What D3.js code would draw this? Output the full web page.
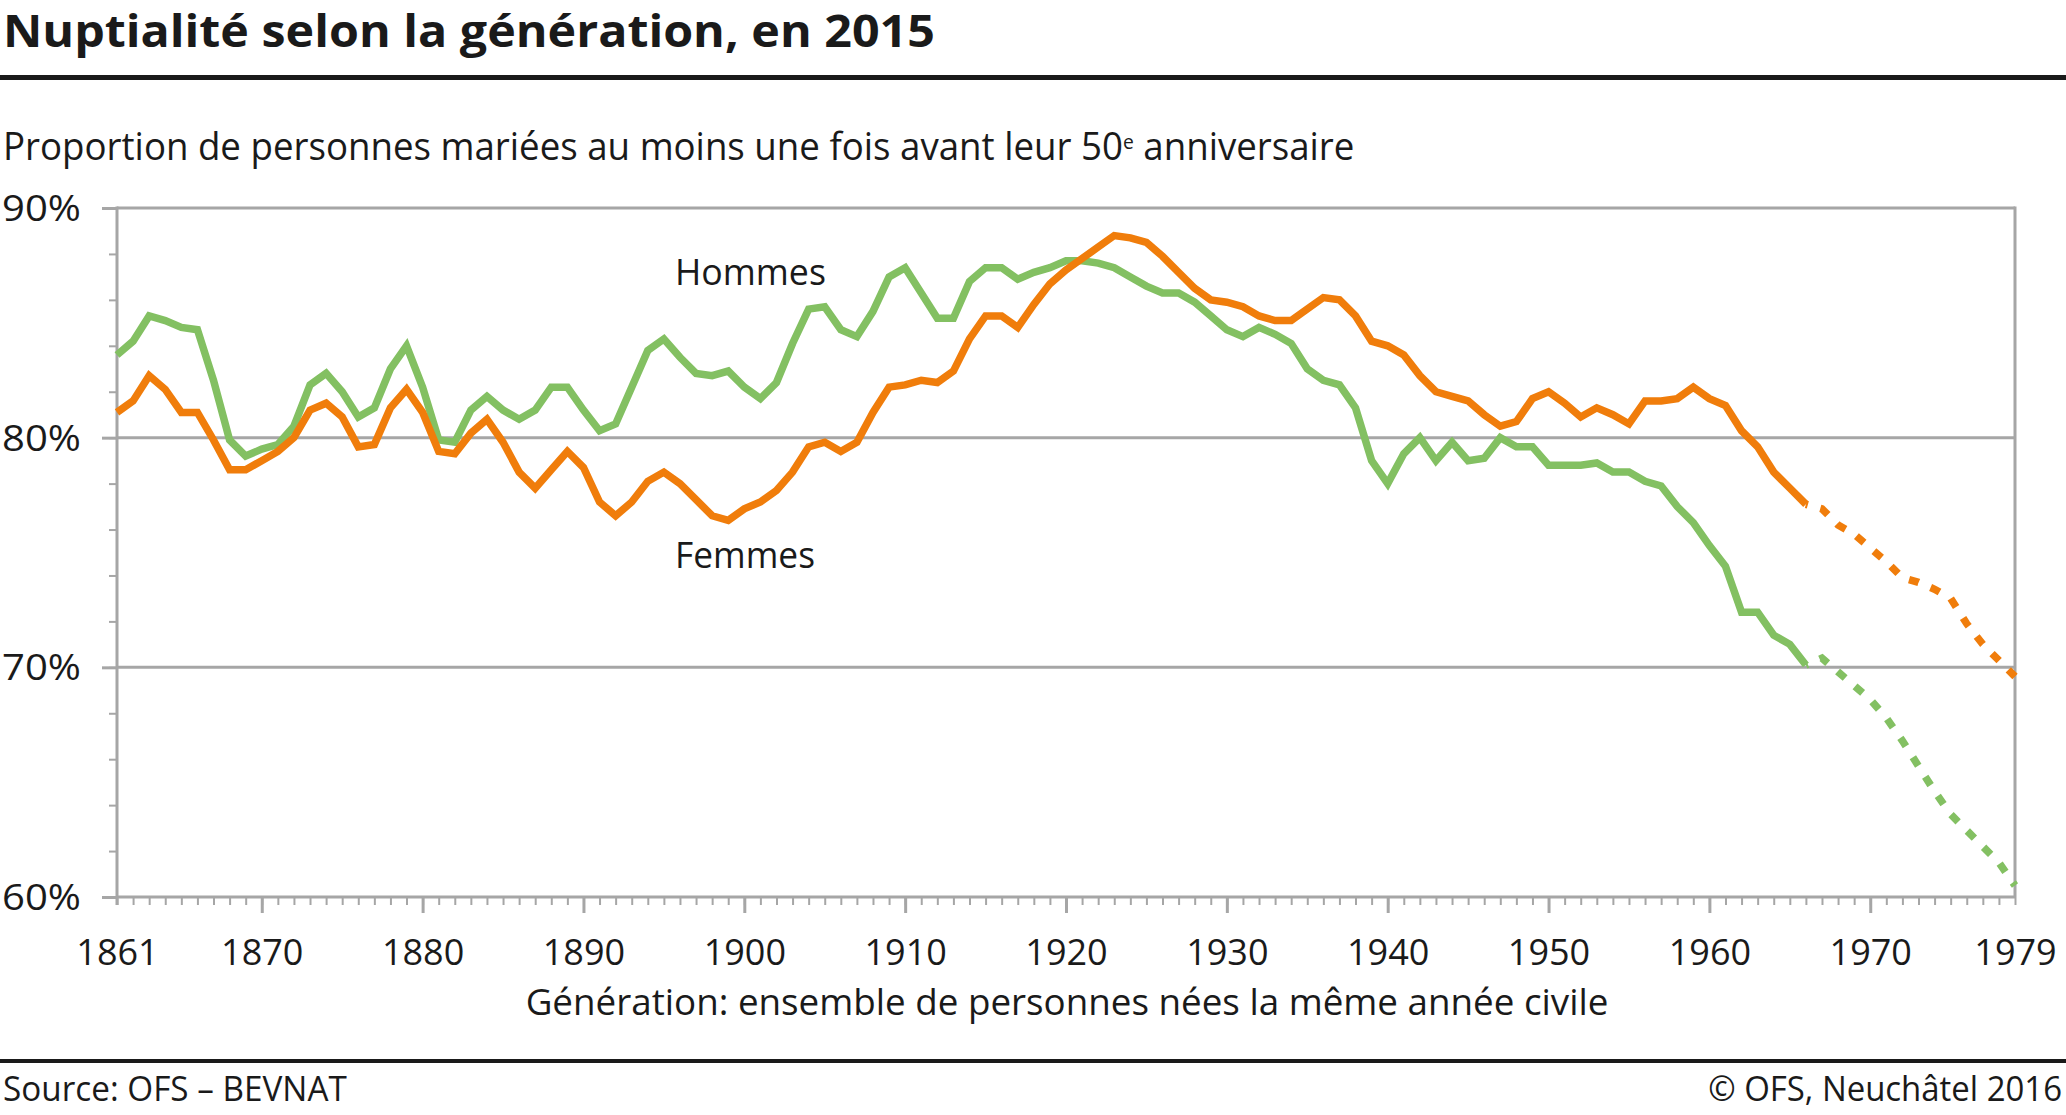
<!DOCTYPE html>
<html>
<head>
<meta charset="utf-8">
<script src="https://cdn.jsdelivr.net/npm/d3@7"></script>
<style>
  body { margin: 0; background: #fff; }
  text { font-family: 'Open Sans', 'Noto Sans', sans-serif; fill: #1a1a1a; }
</style>
</head>
<body>
<div id="chart"></div>
<script>
// data, one value per generation (year of birth)
const firstYear = 1861;
const lastYear = 1979;
const xLabels = [1861, 1870, 1880, 1890, 1900, 1910, 1920, 1930, 1940, 1950, 1960, 1970, 1979];
const yLabels = [60, 70, 80, 90];

// Hommes, observed 1861-1966
const hommes = [
  83.6, 84.2, 85.3, 85.1, 84.8, 84.7, 82.5, 79.9, 79.2, 79.5,
  79.7, 80.5, 82.3, 82.8, 82.0, 80.9, 81.3, 83.0, 84.0, 82.2,
  79.9, 79.8, 81.2, 81.8, 81.2, 80.8, 81.2, 82.2, 82.2, 81.2,
  80.3, 80.6, 82.2, 83.8, 84.3, 83.5, 82.8, 82.7, 82.9, 82.2,
  81.7, 82.4, 84.1, 85.6, 85.7, 84.7, 84.4, 85.5, 87.0, 87.4,
  86.3, 85.2, 85.2, 86.8, 87.4, 87.4, 86.9, 87.2, 87.4, 87.7,
  87.7, 87.6, 87.4, 87.0, 86.6, 86.3, 86.3, 85.9, 85.3, 84.7,
  84.4, 84.8, 84.5, 84.1, 83.0, 82.5, 82.3, 81.3, 79.0, 78.0,
  79.3, 80.0, 79.0, 79.8, 79.0, 79.1, 80.0, 79.6, 79.6, 78.8,
  78.8, 78.8, 78.9, 78.5, 78.5, 78.1, 77.9, 77.0, 76.3, 75.3,
  74.4, 72.4, 72.4, 71.4, 71.0, 70.1
];
// Hommes, estimated 1966-1979
const hommesProj = [70.1, 70.4, 69.8, 69.2, 68.6, 67.8, 66.8, 65.7, 64.6, 63.6, 62.9, 62.2, 61.5, 60.5];

// Femmes, observed 1861-1966
const femmes = [
  81.1, 81.6, 82.7, 82.1, 81.1, 81.1, 79.9, 78.6, 78.6, 79.0,
  79.4, 80.0, 81.2, 81.5, 80.9, 79.6, 79.7, 81.3, 82.1, 81.1,
  79.4, 79.3, 80.2, 80.8, 79.8, 78.5, 77.8, 78.6, 79.4, 78.7,
  77.2, 76.6, 77.2, 78.1, 78.5, 78.0, 77.3, 76.6, 76.4, 76.9,
  77.2, 77.7, 78.5, 79.6, 79.8, 79.4, 79.8, 81.1, 82.2, 82.3,
  82.5, 82.4, 82.9, 84.3, 85.3, 85.3, 84.8, 85.8, 86.7, 87.3,
  87.8, 88.3, 88.8, 88.7, 88.5, 87.9, 87.2, 86.5, 86.0, 85.9,
  85.7, 85.3, 85.1, 85.1, 85.6, 86.1, 86.0, 85.3, 84.2, 84.0,
  83.6, 82.7, 82.0, 81.8, 81.6, 81.0, 80.5, 80.7, 81.7, 82.0,
  81.5, 80.9, 81.3, 81.0, 80.6, 81.6, 81.6, 81.7, 82.2, 81.7,
  81.4, 80.3, 79.6, 78.5, 77.8, 77.1
];
// Femmes, estimated 1966-1979
const femmesProj = [77.1, 76.9, 76.2, 75.8, 75.2, 74.6, 73.9, 73.7, 73.4, 73.0, 71.9, 71.0, 70.3, 69.6];

const projStart = firstYear + hommes.length - 1;

const green = '#83c062';
const orange = '#f07d0b';
const grey = '#a6a6a6';

const W = 2066, H = 1115;
const svg = d3.select('#chart').append('svg')
    .attr('width', W)
    .attr('height', H);

svg.append('rect').attr('width', W).attr('height', H).attr('fill', '#fff');

// squeeze a text horizontally so it spans a given width
function placeText(x, y, str, size, width, anchor, weight) {
    const g = svg.append('g');
    const t = g.append('text')
        .attr('text-anchor', anchor || 'start')
        .style('font-size', size + 'px')
        .style('font-weight', weight || 400)
        .text(str);
    const k = width ? width / t.node().getComputedTextLength() : 1;
    g.attr('transform', `translate(${x},${y}) scale(${k},1)`);
    return t;
}

// title + rules
placeText(3, 47, 'Nuptialité selon la génération, en 2015', 44, 932, 'start', 700);
svg.append('rect').attr('x', 0).attr('y', 75).attr('width', W).attr('height', 5).attr('fill', '#1a1a1a');

// subtitle with the superscript "e"
const sub = svg.append('g');
const subText = sub.append('text').style('font-size', '38px');
subText.append('tspan').text('Proportion de personnes mariées au moins une fois avant leur 50');
subText.append('tspan').attr('dy', -11).style('font-size', '20px').text('e');
subText.append('tspan').attr('dy', 11).text(' anniversaire');
const subW = subText.node().getComputedTextLength();
sub.attr('transform', `translate(3,160) scale(${1352 / subW},1)`);

// scales
const x = d3.scaleLinear().domain([firstYear, lastYear]).range([117, 2015]);
const y = d3.scaleLinear().domain([60, 90]).range([897, 208]);

// grid lines and frame
svg.append('g').selectAll('line')
    .data(yLabels)
    .join('line')
    .attr('x1', x(firstYear)).attr('x2', x(lastYear))
    .attr('y1', d => y(d)).attr('y2', d => y(d))
    .attr('stroke', grey).attr('stroke-width', 3);
svg.append('line')
    .attr('x1', x(lastYear)).attr('x2', x(lastYear))
    .attr('y1', y(90) - 1.5).attr('y2', y(60))
    .attr('stroke', grey).attr('stroke-width', 3);

function styleAxis(g, w) {
    g.select('.domain').remove();
    g.selectAll('.tick line').attr('stroke', grey).attr('stroke-width', w);
    g.selectAll('.tick text').remove();
}

// x axis ticks: every year, longer every decade
svg.append('g')
    .attr('transform', `translate(0,${y(60)})`)
    .call(d3.axisBottom(x).tickValues(d3.range(firstYear, lastYear + 1)).tickSize(8))
    .call(g => styleAxis(g, 2));
svg.append('g')
    .attr('transform', `translate(0,${y(60)})`)
    .call(d3.axisBottom(x).tickValues(d3.range(1870, 1971, 10)).tickSize(16))
    .call(g => styleAxis(g, 3));

// y axis ticks: every 2%, longer every 10%
svg.append('g')
    .attr('transform', `translate(${x(firstYear)},0)`)
    .call(d3.axisLeft(y).tickValues(d3.range(60, 91, 2)).tickSize(8))
    .call(g => styleAxis(g, 2));
svg.append('g')
    .attr('transform', `translate(${x(firstYear)},0)`)
    .call(d3.axisLeft(y).tickValues(yLabels).tickSize(15))
    .call(g => styleAxis(g, 3));
svg.append('line')
    .attr('x1', x(firstYear)).attr('x2', x(firstYear))
    .attr('y1', y(90) - 1.5).attr('y2', y(60) + 8)
    .attr('stroke', grey).attr('stroke-width', 3);

// tick labels
const xLab = svg.append('g')
    .attr('transform', `translate(0,${y(60)})`)
    .call(d3.axisBottom(x).tickValues(xLabels).tickSize(0).tickPadding(46).tickFormat(d3.format('d')));
xLab.select('.domain').remove();
xLab.selectAll('text')
    .attr('dy', null)
    .attr('y', 68)
    .style('font-size', '36px')
    .attr('fill', '#1a1a1a');

yLabels.forEach(v => {
    placeText(81, y(v) + 13, v + '%', 37, 79, 'end');
});

// lines
const line = d3.line()
    .x(d => x(d.year))
    .y(d => y(d.value));

function series(values, start) {
    return values.map((v, i) => ({ year: start + i, value: v }));
}

const paths = [
    { data: series(hommes, firstYear), color: green, dash: null },
    { data: series(femmes, firstYear), color: orange, dash: null },
    { data: series(hommesProj, projStart), color: green, dash: '10 13' },
    { data: series(femmesProj, projStart), color: orange, dash: '10 13' }
];

svg.append('g').selectAll('path')
    .data(paths)
    .join('path')
    .attr('d', d => line(d.data))
    .attr('fill', 'none')
    .attr('stroke', d => d.color)
    .attr('stroke-width', 7.5)
    .attr('stroke-linejoin', 'miter')
    .attr('stroke-dasharray', d => d.dash)
    .attr('stroke-dashoffset', d => d.dash ? 8 : null);

// series labels
placeText(675, 285, 'Hommes', 37, 151);
placeText(675, 568, 'Femmes', 37, 140);

// axis title
placeText(1067, 1015, 'Génération: ensemble de personnes nées la même année civile', 37, 1083, 'middle');

// footer
svg.append('rect').attr('x', 0).attr('y', 1059).attr('width', W).attr('height', 4).attr('fill', '#1a1a1a');
placeText(3, 1101, 'Source: OFS – BEVNAT', 35, 344);
placeText(2062, 1101, '© OFS, Neuchâtel 2016', 35, 354, 'end');
</script>
</body>
</html>
